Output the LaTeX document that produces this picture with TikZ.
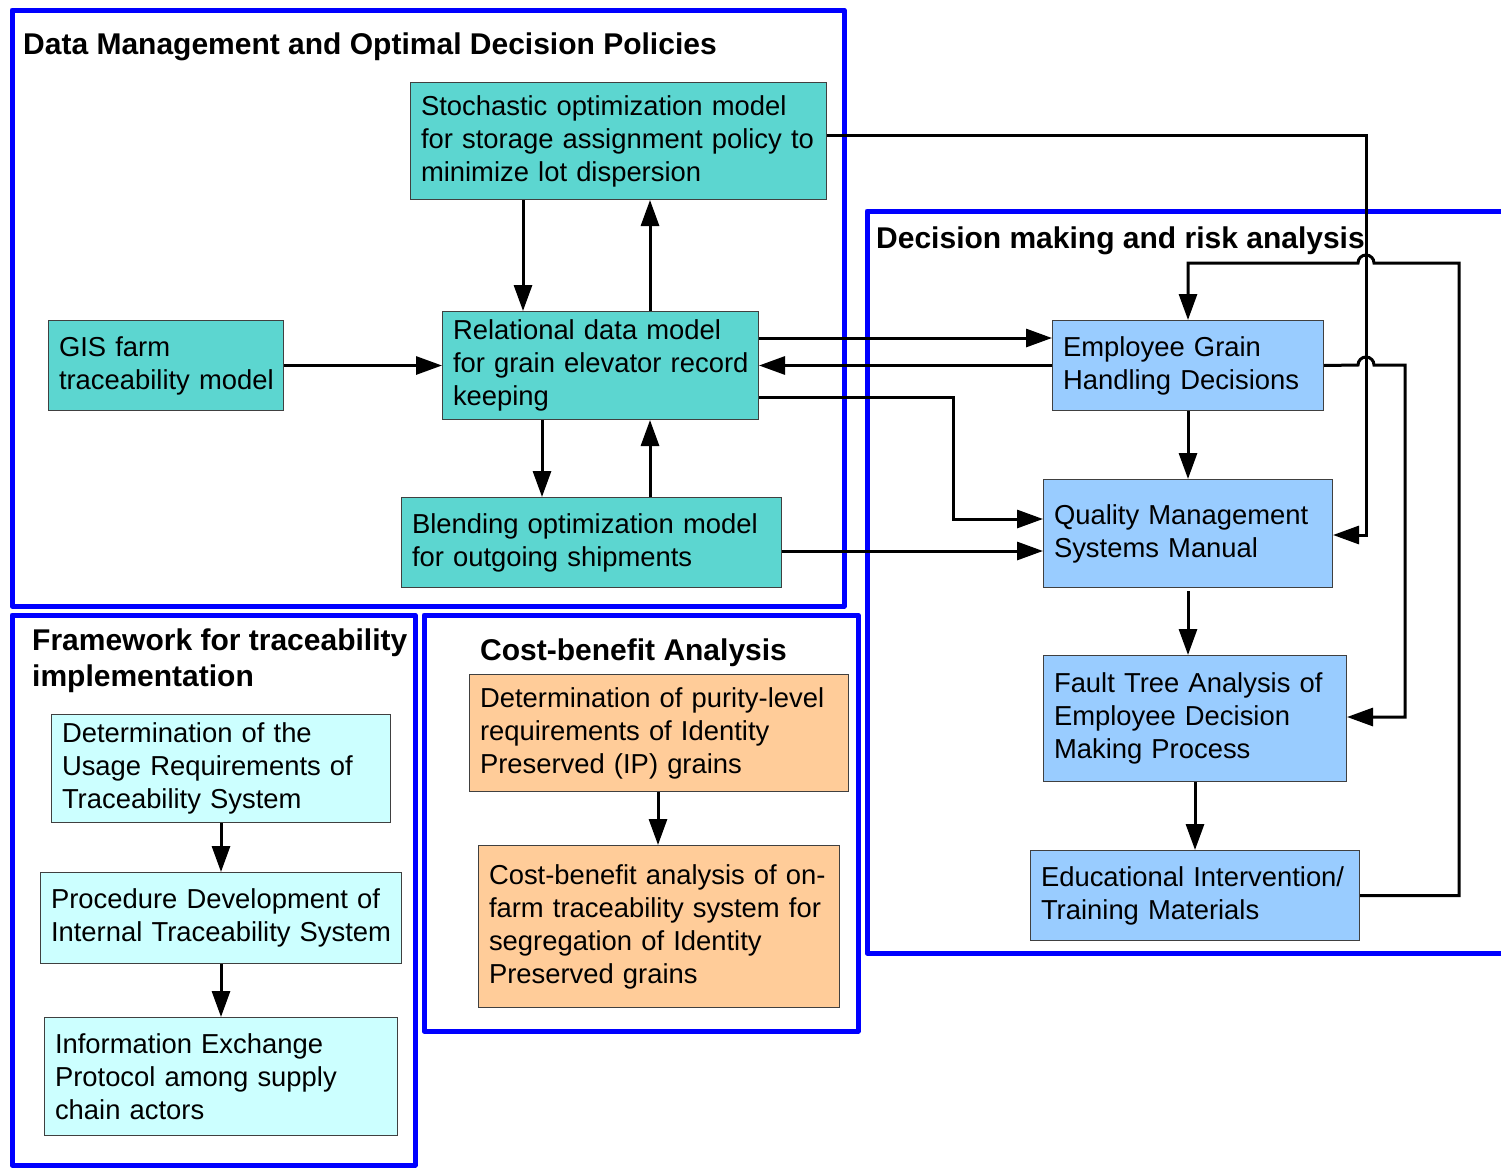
\documentclass[tikz,border=0pt]{standalone}
\usepackage{fontspec}
\setmainfont{Liberation Sans}
\usetikzlibrary{arrows.meta,calc}
\definecolor{tealbox}{RGB}{92,214,208}
\definecolor{bluebox}{RGB}{153,204,255}
\definecolor{cyanbox}{RGB}{204,255,255}
\definecolor{orangebox}{RGB}{255,204,153}
\definecolor{frameblue}{RGB}{0,0,255}
\tikzset{
  box/.style={draw=black!75, line width=1pt, anchor=north west, align=left,
    inner xsep=10.5pt, inner ysep=0pt, font=\fontsize{27.4}{33}\selectfont},
  frame/.style={draw=frameblue, line width=5pt, line join=round},
  title/.style={anchor=base west, inner sep=0pt, font=\fontsize{30}{36}\selectfont\bfseries},
  conn/.style={draw=black, line width=3pt, line join=miter},
  arr/.style={conn, -{Triangle[length=26pt,width=18pt]}},
}
\begin{document}
\begin{tikzpicture}[x=1pt,y=-1pt]
\useasboundingbox (0,0) rectangle (1501,1167);
% frames
\draw[frame] (12,10) rectangle (844,606);
\draw[frame] (1512,211) -- (867,211) -- (867,953) -- (1512,953);
\draw[frame] (12,615) rectangle (415,1165);
\draw[frame] (424,615) rectangle (858,1031);
% titles
\node[title] (t1) at (23,54) {Data Management and Optimal Decision Policies};
\node[title] (t2) at (876,248) {Decision making and risk analysis};
\node[title] (t3a) at (32,650) {Framework for traceability};
\node[title] (t3b) at (32,686) {implementation};
\node[title] (t4) at (480,660) {Cost-benefit Analysis};
% boxes
\node[box, fill=tealbox, text width=395pt, minimum height=117pt] (stoch) at (410,82)
  {\mbox{Stochastic optimization model}\\\mbox{for storage assignment policy to}\\\mbox{minimize lot dispersion}};
\node[box, fill=tealbox, text width=214pt, minimum height=90pt] (gis) at (48,320)
  {\mbox{GIS farm}\\\mbox{traceability model}};
\node[box, fill=tealbox, text width=295pt, minimum height=108pt] (rel) at (442,311)
  {\mbox{Relational data model}\\\mbox{for grain elevator record}\\\mbox{keeping}};
\node[box, fill=tealbox, text width=359pt, minimum height=90pt] (blend) at (401,497)
  {\mbox{Blending optimization model}\\\mbox{for outgoing shipments}};
\node[box, fill=bluebox, text width=250pt, minimum height=90pt] (emp) at (1052,320)
  {\mbox{Employee Grain}\\\mbox{Handling Decisions}};
\node[box, fill=bluebox, text width=268pt, minimum height=108pt] (qms) at (1043,479)
  {\mbox{Quality Management}\\\mbox{Systems Manual}};
\node[box, fill=bluebox, text width=282pt, minimum height=126pt] (fault) at (1043,655)
  {\mbox{Fault Tree Analysis of}\\\mbox{Employee Decision}\\\mbox{Making Process}};
\node[box, fill=bluebox, text width=308pt, minimum height=90pt] (edu) at (1030,850)
  {\mbox{Educational Intervention/}\\\mbox{Training Materials}};
\node[box, fill=cyanbox, text width=318pt, minimum height=108pt] (use) at (51,714)
  {\mbox{Determination of the}\\\mbox{Usage Requirements of}\\\mbox{Traceability System}};
\node[box, fill=cyanbox, text width=340pt, minimum height=91pt] (proc) at (40,872)
  {\mbox{Procedure Development of}\\\mbox{Internal Traceability System}};
\node[box, fill=cyanbox, text width=332pt, minimum height=118pt] (info) at (44,1017)
  {\mbox{Information Exchange}\\\mbox{Protocol among supply}\\\mbox{chain actors}};
\node[box, fill=orangebox, text width=358pt, minimum height=117pt] (pur) at (469,674)
  {\mbox{Determination of purity-level}\\\mbox{requirements of Identity}\\\mbox{Preserved (IP) grains}};
\node[box, fill=orangebox, text width=340pt, minimum height=162pt] (cba) at (478,845)
  {\mbox{Cost-benefit analysis of on-}\\\mbox{farm traceability system for}\\\mbox{segregation of Identity}\\\mbox{Preserved grains}};
% connectors in data management
\draw[arr] (523,0 |- stoch.south) -- (523,0 |- rel.north);
\draw[arr] (650,0 |- rel.north) -- (650,0 |- stoch.south);
\draw[arr] (gis.east) -- (rel.west);
\draw[arr] (542,0 |- rel.south) -- (542,0 |- blend.north);
\draw[arr] (650,0 |- blend.north) -- (650,0 |- rel.south);
% links to decision making
\draw[arr] (rel.east |- 0,338) -- (emp.west |- 0,338);
\draw[arr] (emp.west) -- (rel.east);
\draw[arr] (rel.east |- 0,397) -- (953,397) -- (953,519) -- (qms.west |- 0,519);
\draw[arr] (blend.east |- 0,551) -- (qms.west |- 0,551);
\draw[arr] (stoch.east |- 0,135) -- (1366,135) -- (1366,535) -- (qms.east |- 0,535);
\draw[arr] (edu.east) -- (1459,0 |- edu.east) -- (1459,263) -- (1374,263)
  arc[start angle=0, end angle=180, radius=8pt] -- (1188,263) -- (emp.north);
\draw[arr] (emp.east) -- (1358,365) arc[start angle=180, end angle=0, radius=8pt]
  -- (1405,365) -- (1405,717) -- (fault.east |- 0,717);
\draw[arr] (1188,0 |- emp.south) -- (1188,0 |- qms.north);
\draw[arr] (1188,591) -- (1188,0 |- fault.north);
\draw[arr] (1195,0 |- fault.south) -- (1195,0 |- edu.north);
% other
\draw[arr] (658,0 |- pur.south) -- (658,0 |- cba.north);
\draw[arr] (221,0 |- use.south) -- (221,0 |- proc.north);
\draw[arr] (221,0 |- proc.south) -- (221,0 |- info.north);
\end{tikzpicture}
\end{document}
